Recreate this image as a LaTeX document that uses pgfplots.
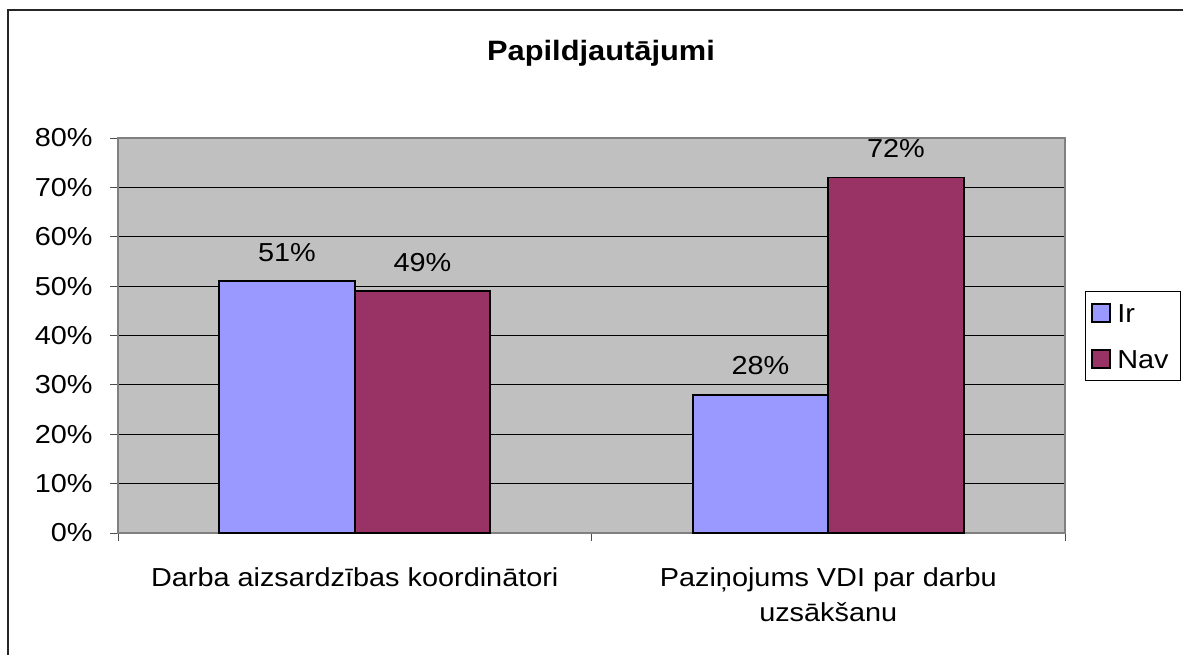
\documentclass[border=0pt]{standalone}
\usepackage{fontspec}
\setmainfont[FakeStretch=1.11]{Liberation Sans}
\newfontfamily\titlefont[FakeStretch=1.1]{Liberation Sans}
\usepackage{pgfplots}
\pgfplotsset{compat=1.18}
\definecolor{ir}{HTML}{9999FF}
\definecolor{nav}{HTML}{993366}
\definecolor{plotbg}{HTML}{C0C0C0}
\begin{document}
\begin{tikzpicture}
\path[use as bounding box] (0,0) rectangle (591.5pt,327.5pt);
\draw[line width=1pt, black!85] (4pt,0) -- (4pt,322.5pt) -- (591.5pt,322.5pt);
\node[anchor=base, inner sep=0pt, font=\titlefont\bfseries\fontsize{14}{16}\selectfont] at (300.5pt,297.5pt) {Papildjautājumi};
\begin{axis}[
  at={(59pt,61pt)}, anchor=south west,
  scale only axis, width=473.5pt, height=197.5pt,
  ymin=0, ymax=80, xmin=-0.5, xmax=1.5,
  ybar=0pt, bar width=67.75pt,
  axis background/.style={fill=plotbg},
  axis line style={draw=black!50, line width=1pt},
  tick align=outside, major tick length=4pt,
  xtick pos=bottom, ytick pos=left,
  tick style={draw=black!70, line width=0.5pt},
  ytick={0,10,...,80},
  yticklabel={\pgfmathprintnumber{\tick}\%},
  /pgf/number format/assume math mode=true,
  yticklabel style={anchor=east, inner sep=0pt, xshift=-8.5pt},
  ymajorgrids, grid style={black, line width=0.5pt},
  xtick={-0.5,0.5,1.5}, xticklabels={,,},
  extra x ticks={0,1},
  extra x tick labels={Darba aizsardzības koordinātori, {Paziņojums VDI par darbu\\uzsākšanu}},
  extra x tick style={major tick length=0pt, grid=none},
  xticklabel style={anchor=north, inner sep=0pt, align=center, yshift=-17pt},
  ticklabel style={font=\fontsize{13}{17.5}\selectfont},
  nodes near coords={\pgfmathprintnumber{\pgfplotspointmeta}\%},
  every node near coord/.append style={font=\fontsize{13}{17.5}\selectfont, anchor=base, inner sep=0pt, yshift=10pt, black},
  legend style={at={(axis description cs:1.0211,0.6134)}, anchor=north west,
    draw=black, line width=0.5pt, fill=white,
    font=\fontsize{13}{17.5}\selectfont,
    inner xsep=3pt, inner ysep=5.25pt, row sep=11.75pt,
    nodes={inner xsep=3pt, inner ysep=1pt, text height=9.3pt, text depth=0pt}},
  legend cell align=left,
  legend image code/.code={\draw[#1, line width=0.9pt] (0pt,-4.3pt) rectangle (9pt,4.7pt);},
]
\addplot[fill=ir, draw=black, line width=0.9pt] coordinates {(0,51) (1,28)};
\addplot[fill=nav, draw=black, line width=0.9pt] coordinates {(0,49) (1,72)};
\legend{Ir, Nav}
\end{axis}
\end{tikzpicture}
\end{document}
